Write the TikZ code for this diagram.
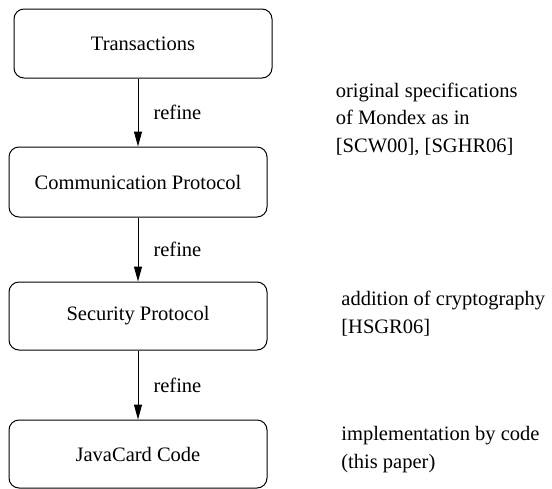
\documentclass[tikz,border=0pt]{standalone}
\usepackage{fontspec}
\setmainfont{Liberation Serif}
\usetikzlibrary{arrows.meta}
\tikzset{
  refarr/.style  = {-{Triangle[length=7.5pt, width=4pt]}, line width=0.5pt},
  %% Box and text presets
  stagebox/.style = {draw, line width=0.5pt, rounded corners=5pt, minimum width=129pt, inner sep=0pt},
  reflabel/.style = {midway, anchor=west, inner sep=0pt, xshift=7.5pt},
  notetext/.style = {anchor=base west, align=left, inner sep=0pt},
}

\begin{document}
\begin{tikzpicture}[x=0.5pt, y=-0.5pt, every node/.style={font=\fontsize{10.25}{13.75}\selectfont}]
\useasboundingbox (0,0) rectangle (552,488);

%% ---- Refinement stages ----
\node[stagebox, minimum height=34.5pt] (trans)    at (143, 43.5) {Transactions};
\node[stagebox, minimum height=35pt]   (commprot) at (138, 182)  {Communication Protocol};
\node[stagebox, minimum height=34pt]   (secprot)  at (138, 316)  {Security Protocol};
\node[stagebox, minimum height=34pt]   (javacode) at (138, 454)  {JavaCard Code};

%% ---- refine arrows ----
\draw[refarr] (commprot.north |- trans.south) -- (commprot.north) node[reflabel] {refine};
\draw[refarr] (commprot) -- (secprot) node[reflabel] {refine};
\draw[refarr] (secprot) -- (javacode) node[reflabel] {refine};

%% ---- Notes on the right (anchored at the last line) ----
\node[notetext] (origspec) at (335.5, 152) {original specifications\\of Mondex as in\\{[SCW00]}, [SGHR06]};
\node[notetext] (crypto)   at (341, 333)   {addition of cryptography\\{[HSGR06]}};
\node[notetext] (implcode) at (341, 468)   {implementation by code\\(this paper)};

\end{tikzpicture}
\end{document}
